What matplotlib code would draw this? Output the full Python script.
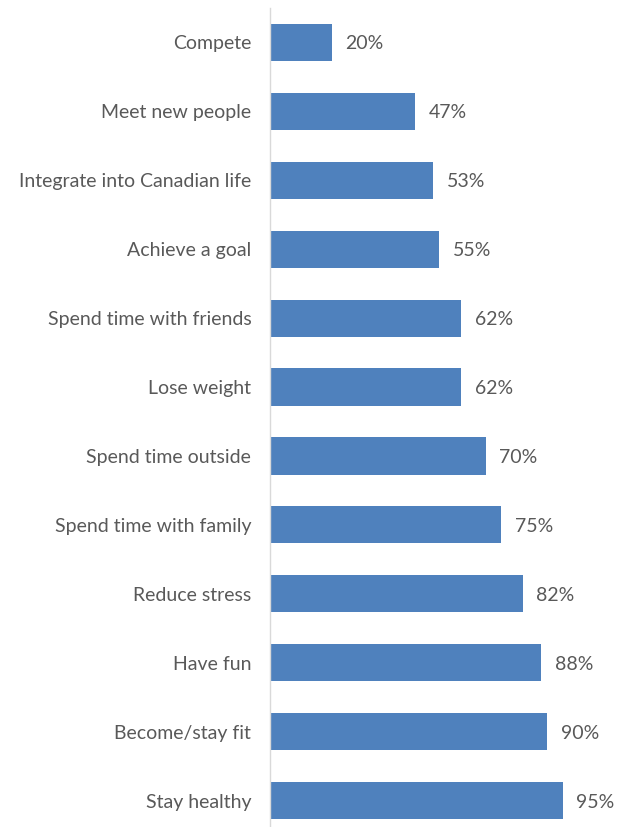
import matplotlib
matplotlib.use("Agg")
import matplotlib.pyplot as plt

categories = [
    "Compete",
    "Meet new people",
    "Integrate into Canadian life",
    "Achieve a goal",
    "Spend time with friends",
    "Lose weight",
    "Spend time outside",
    "Spend time with family",
    "Reduce stress",
    "Have fun",
    "Become/stay fit",
    "Stay healthy",
]
values = [20, 47, 53, 55, 62, 62, 70, 75, 82, 88, 90, 95]

W, H = 624, 827
fig = plt.figure(figsize=(W / 100, H / 100), dpi=100)
fig.patch.set_facecolor("white")

left, right = 270, 578
top, bottom = 8, 835
ax = fig.add_axes([left / W, 1 - bottom / H, (right - left) / W, (bottom - top) / H])

text_color = "#595959"
bar_color = "#4F81BD"
font = "Lato"
fs = 14

pos = list(range(len(categories)))
ax.barh(pos, values, height=0.54, color=bar_color, zorder=2)
ax.set_xlim(0, 100)
ax.set_ylim(len(categories) - 0.5, -0.5)

for p, v in zip(pos, values):
    ax.annotate(f"{v}%", xy=(v, p), xytext=(10, 0), textcoords="offset points",
                va="center_baseline", ha="left", fontsize=fs, color=text_color,
                family=font, annotation_clip=False)

ax.set_yticks(pos)
ax.set_yticklabels(categories, fontsize=fs, color=text_color, family=font,
                   va="center_baseline")
ax.tick_params(axis="y", length=0, pad=13.5)
ax.set_xticks([])

for s in ["top", "right", "bottom"]:
    ax.spines[s].set_visible(False)
ax.spines["left"].set_color("#D9D9D9")
ax.spines["left"].set_linewidth(1.0)
ax.patch.set_alpha(0)

fig.savefig("out.png", dpi=100, facecolor="white")
